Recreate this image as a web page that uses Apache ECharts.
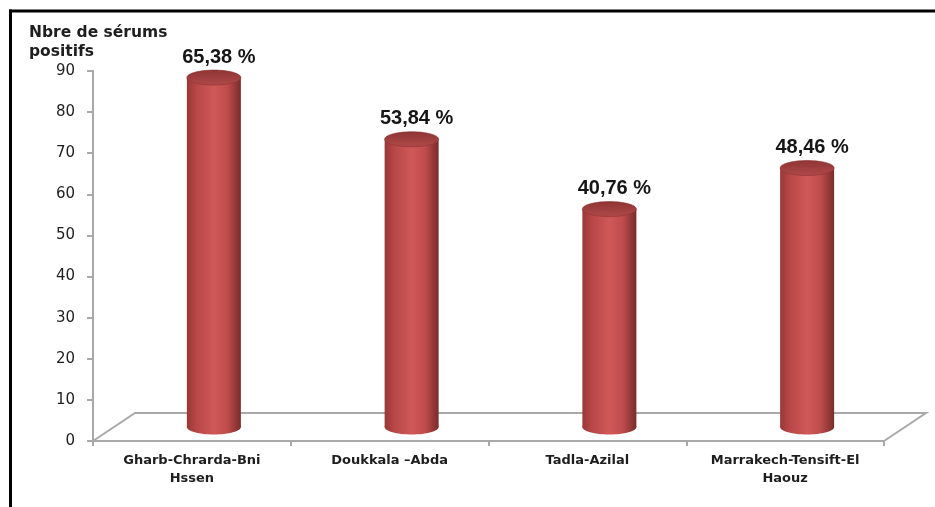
<!DOCTYPE html>
<html>
<head>
<meta charset="utf-8">
<script src="https://cdn.jsdelivr.net/npm/echarts@6/dist/echarts.min.js"></script>
<style>
html,body{margin:0;padding:0;background:#fff;}
#c{width:935px;height:507px;}
</style>
</head>
<body>
<div id="c"></div>
<script>
// ---- data ----
const categories = ['Gharb-Chrarda-Bni\nHssen', 'Doukkala \u2013Abda', 'Tadla-Azilal', 'Marrakech-Tensift-El\nHaouz'];
const positifs = [85, 70, 53, 63];
const percentLabels = ['65,38 %', '53,84 %', '40,76 %', '48,46 %'];
const yTicks = [0, 10, 20, 30, 40, 50, 60, 70, 80, 90];
const yTitle = 'Nbre de sérums\npositifs';

// ---- 3D look parameters ----
const DEPTH_X = 42, DEPTH_Y = -28;          // floor depth
const MID_X = DEPTH_X / 2 + 1, MID_Y = DEPTH_Y / 2; // bars sit mid-depth
const BAR_W = 54, ELL_RY = 7.5;
const GRAY = '#a9a9a9';

const chart = echarts.init(document.getElementById('c'), null, {renderer: 'canvas'});

const bodyGrad = () => new echarts.graphic.LinearGradient(0, 0, 1, 0, [
  {offset: 0, color: '#983838'},
  {offset: 0.18, color: '#b84747'},
  {offset: 0.5, color: '#d05858'},
  {offset: 0.75, color: '#bf4c4c'},
  {offset: 1, color: '#7a2b2b'}
]);
const topGrad = () => new echarts.graphic.LinearGradient(0, 0, 0, 1, [
  {offset: 0, color: '#8e3434'},
  {offset: 1, color: '#b04949'}
]);

const floorSeries = {
  type: 'custom',
  silent: true,
  z: 1,
  data: [[0, 0]],
  renderItem: function (params, api) {
    const band = api.size([1, 0])[0];
    const first = api.coord([0, 0]);
    const last = api.coord([categories.length - 1, 0]);
    const xl = first[0] - band / 2, xr = last[0] + band / 2, y0 = first[1];
    return {
      type: 'polyline',
      shape: {points: [[xl, y0], [xl + DEPTH_X, y0 + DEPTH_Y], [xr + DEPTH_X, y0 + DEPTH_Y], [xr, y0]]},
      style: {stroke: GRAY, lineWidth: 2, fill: null}
    };
  }
};

const barSeries = {
  type: 'custom',
  z: 3,
  data: positifs.map((v, i) => [i, v]),
  renderItem: function (params, api) {
    const i = api.value(0);
    const base = api.coord([i, 0]);
    const top = api.coord([i, api.value(1)]);
    const cx = base[0] + MID_X;
    const yb = base[1] + MID_Y;
    const yt = top[1] + MID_Y;
    const rx = BAR_W / 2;
    return {
      type: 'group',
      children: [
        {type: 'ellipse', shape: {cx: cx, cy: yb, rx: rx, ry: ELL_RY}, style: {fill: bodyGrad()}},
        {type: 'rect', shape: {x: cx - rx, y: yt, width: BAR_W, height: yb - yt}, style: {fill: bodyGrad()}},
        {type: 'ellipse', shape: {cx: cx, cy: yt, rx: rx, ry: ELL_RY}, style: {fill: topGrad(), stroke: '#8a3232', lineWidth: 0.6}},
        {type: 'text', style: {
          text: percentLabels[i], x: cx + 5, y: yt - ELL_RY - 3,
          align: 'center', verticalAlign: 'bottom',
          fill: '#161616', font: 'bold 20px "Liberation Sans", Arial, sans-serif'
        }}
      ]
    };
  }
};

chart.setOption({
  animation: false,
  backgroundColor: '#ffffff',
  title: {
    text: yTitle, left: 24, top: 18,
    textStyle: {fontFamily: 'DejaVu Sans', fontWeight: 'bold', fontSize: 15.5, color: '#1e1e1e', lineHeight: 19}
  },
  graphic: [
    {type: 'line', silent: true, z: 100, shape: {x1: 9, y1: 11, x2: 935, y2: 11}, style: {stroke: '#000', lineWidth: 3}},
    {type: 'line', silent: true, z: 100, shape: {x1: 10.5, y1: 9.5, x2: 10.5, y2: 507}, style: {stroke: '#000', lineWidth: 3}}
  ],
  grid: {left: 93, right: 51, top: 71, bottom: 66, containLabel: false},
  xAxis: {
    type: 'category',
    data: categories,
    boundaryGap: true,
    axisLine: {show: true, lineStyle: {color: GRAY, width: 2}},
    axisTick: {show: true, length: 5, lineStyle: {color: GRAY, width: 2}},
    axisLabel: {
      interval: 0, margin: 11, color: '#1e1e1e',
      fontFamily: 'DejaVu Sans', fontWeight: 'bold', fontSize: 13, lineHeight: 18
    },
    splitLine: {show: false}
  },
  yAxis: {
    type: 'value',
    min: yTicks[0], max: yTicks[yTicks.length - 1], interval: 10,
    axisLine: {show: true, lineStyle: {color: GRAY, width: 2}},
    axisTick: {show: true, length: 6, lineStyle: {color: GRAY, width: 2}},
    axisLabel: {margin: 18, color: '#1e1e1e', fontFamily: 'DejaVu Sans', fontSize: 15},
    splitLine: {show: false}
  },
  series: [floorSeries, barSeries]
});
</script>
</body>
</html>
